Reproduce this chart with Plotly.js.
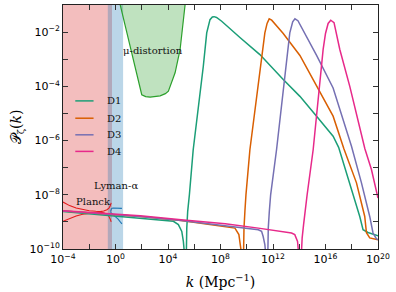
<!DOCTYPE html>
<html><head><meta charset="utf-8">
<script src="https://cdn.plot.ly/plotly-3.0.1.min.js"></script>
<style>html,body{margin:0;padding:0;background:#fff}#chart{width:396px;height:292px}</style>
</head><body><div id="chart"></div>
<script>
// ---- data (log10 of k in Mpc^-1, log10 of P_zeta) ----
const seriesNames = ['D1', 'D2', 'D3', 'D4'];
const seriesColors = ['#1b9e77', '#d95f02', '#7570b3', '#e7298a'];

const D1_logk = [-4, -2, 0, 1.89, 3.0, 4.0, 4.41, 4.79, 5.05, 5.17, 5.24, 5.3, 5.36, 5.43, 5.5, 5.63, 5.92, 6.39, 6.69, 6.95, 7.2, 7.38, 7.51, 7.7, 8.09, 9.48, 11.0, 12.78, 14.05, 15.32, 16.58, 17.0, 17.85, 18.61, 18.86, 19.24, 20];
const D1_logP = [-8.62, -8.7, -8.78, -8.86, -8.9, -8.94, -8.98, -9.1, -9.35, -9.72, -10.1, -13, -10.0, -9.23, -8.61, -8.0, -6.34, -4.49, -3.26, -2.03, -1.54, -1.44, -1.43, -1.46, -1.6, -2.2, -2.83, -3.75, -4.37, -5.1, -5.84, -6.25, -7.56, -8.8, -9.29, -9.39, -9.51];

const D2_logk = [-4, -2, 0, 1.89, 5, 8.36, 9.1, 9.4, 9.53, 9.58, 9.65, 9.72, 9.79, 9.86, 9.94, 10.24, 10.74, 11.06, 11.38, 11.55, 11.71, 11.9, 12.78, 14.05, 15.32, 16.58, 17.4, 18.36, 18.99, 19.12, 19.37, 20];
const D2_logP = [-8.6, -8.67, -8.74, -8.8, -8.95, -9.17, -9.23, -9.47, -9.84, -10.1, -13, -10.0, -9.23, -8.61, -8.0, -6.34, -4.49, -3.26, -2.03, -1.68, -1.51, -1.56, -2.05, -2.86, -4.0, -5.1, -6.3, -7.56, -8.8, -9.4, -9.59, -9.66];

const D3_logk = [-4, -2, 0, 1.89, 5, 8.36, 10.0, 10.88, 11.13, 11.25, 11.38, 11.43, 11.5, 11.57, 11.64, 11.72, 11.82, 12.27, 12.7, 13.03, 13.28, 13.5, 13.67, 13.9, 15.32, 16.58, 17.98, 18.74, 19.37, 19.62, 19.88, 20];
const D3_logP = [-8.6, -8.67, -8.74, -8.8, -8.95, -9.15, -9.25, -9.29, -9.35, -9.54, -9.84, -10.1, -13, -10.0, -9.23, -8.61, -8.0, -6.34, -4.49, -3.26, -2.03, -1.62, -1.51, -1.58, -2.86, -4.06, -6.21, -7.56, -8.8, -9.41, -9.63, -9.65];

const D4_logk = [-4, -2, 0, 1.89, 5, 8.36, 10.88, 13.41, 13.66, 13.87, 13.94, 14.05, 14.15, 14.22, 14.33, 14.45, 14.6, 15.06, 15.44, 15.82, 16.0, 16.2, 16.4, 16.65, 17.09, 17.85, 19.0, 19.5, 20];
const D4_logP = [-8.59, -8.66, -8.72, -8.77, -8.92, -9.07, -9.23, -9.41, -9.47, -9.72, -10.1, -13, -10.3, -9.6, -9.1, -8.6, -8.0, -6.34, -4.49, -2.64, -2.05, -1.68, -1.56, -1.65, -2.64, -4.0, -6.3, -7.07, -8.12];

// excluded regions (k in Mpc^-1)
const planckK = [1e-4, 0.54];
const lymanK = [0.26, 3.8];

// Planck band edges
const planck_logk = [-4, -3.5, -3, -2.5, -2, -1.5, -1.16, -0.9, -0.65, -0.5, -0.4, -0.33];
const planckUp_logP = [-8.27, -8.4, -8.49, -8.55, -8.59, -8.61, -8.62, -8.6, -8.55, -8.49, -8.41, -8.3];
const planckLo_logP = [-8.98, -8.88, -8.78, -8.72, -8.68, -8.66, -8.65, -8.66, -8.72, -8.8, -8.9, -9.0];

// Lyman-alpha band edges
const lymanUp_logk = [-0.38, -0.3, -0.2, 0.2, 0.49];
const lymanUp_logP = [-8.62, -8.51, -8.49, -8.49, -8.5];
const lymanLo_logk = [-0.38, -0.2, 0.0, 0.2, 0.35, 0.49];
const lymanLo_logP = [-8.65, -8.72, -8.8, -8.9, -8.99, -9.07];

// mu-distortion bound
const mu_logk = [0.3, 0.36, 0.87, 1.37, 1.75, 2.0, 2.3, 2.64, 3.4, 3.8, 4.03, 4.54, 4.92, 5.17, 5.3, 5.35];
const mu_logP = [0, -1.0, -2.03, -3.01, -3.87, -4.31, -4.38, -4.4, -4.35, -4.27, -4.18, -3.5, -2.65, -1.54, -1.0, 0];

// axes ticks (exponents)
const xTickExp = [-4, -2, 0, 2, 4, 6, 8, 10, 12, 14, 16, 18, 20];
const xLabelExp = [-4, 0, 4, 8, 12, 16, 20];
const yTickExp = [-10, -9, -8, -7, -6, -5, -4, -3, -2, -1];
const yLabelExp = [-10, -8, -6, -4, -2];

// text labels
const regionLabels = [
  {text: 'μ-distortion', logk: 2.83, logP: -2.68},
  {text: 'Lyman-α', logk: 0.0, logP: -7.66},
  {text: 'Planck', logk: -1.67, logP: -8.24}
];

// ---- build ----
const p10 = a => a.map(v => Math.pow(10, v));
const sup = e => '10<sup>' + (e < 0 ? '\u2212' + (-e) : e) + '</sup>';
const traces = [];
// regions
traces.push({x: [planckK[0], planckK[1], planckK[1], planckK[0]], y: [1e-12, 1e-12, 1, 1], fill: 'toself', fillcolor: 'rgba(214,39,40,0.3)', mode: 'none', hoverinfo: 'skip'});
traces.push({x: [lymanK[0], lymanK[1], lymanK[1], lymanK[0]], y: [1e-12, 1e-12, 1, 1], fill: 'toself', fillcolor: 'rgba(31,119,180,0.3)', mode: 'none', hoverinfo: 'skip'});
traces.push({x: p10(mu_logk), y: p10(mu_logP), fill: 'toself', fillcolor: 'rgba(44,160,44,0.3)', mode: 'lines', line: {color: '#2ca02c', width: 1.2}, hoverinfo: 'skip'});
// bands
traces.push({x: p10(planck_logk), y: p10(planckUp_logP), mode: 'lines', line: {color: '#e31a1c', width: 1.1}});
traces.push({x: p10(planck_logk), y: p10(planckLo_logP), mode: 'lines', line: {color: '#e31a1c', width: 1.1}});
traces.push({x: p10(lymanUp_logk), y: p10(lymanUp_logP), mode: 'lines', line: {color: '#1f77b4', width: 1.1}});
traces.push({x: p10(lymanLo_logk), y: p10(lymanLo_logP), mode: 'lines', line: {color: '#1f77b4', width: 1.1}});
// series
const allK = [D1_logk, D2_logk, D3_logk, D4_logk];
const allP = [D1_logP, D2_logP, D3_logP, D4_logP];
for (let i = 0; i < 4; i++) {
  traces.push({x: p10(allK[i]), y: p10(allP[i]), mode: 'lines', name: seriesNames[i], line: {color: seriesColors[i], width: 1.5}});
}

const axisCommon = {
  type: 'log', tickmode: 'array', ticks: 'inside', ticklen: 5, tickwidth: 1, tickcolor: '#333',
  mirror: 'allticks', showline: true, linecolor: '#222', linewidth: 1, showgrid: false, zeroline: false,
  automargin: false, tickfont: {family: 'DejaVu Sans', size: 11, color: '#000'}
};

const annotations = regionLabels.map(l => ({x: l.logk, y: l.logP, xref: 'x', yref: 'y', text: l.text, showarrow: false,
  xanchor: 'center', yanchor: 'middle', font: {family: 'DejaVu Serif', size: 10, color: '#111'}}));
const shapes = [];
const legX0 = 0.039, legX1 = 0.097, legTX = 0.134;
const legY = [0.607, 0.536, 0.468, 0.400];
for (let i = 0; i < 4; i++) {
  shapes.push({type: 'line', xref: 'paper', yref: 'paper', x0: legX0, x1: legX1, y0: legY[i], y1: legY[i], line: {color: seriesColors[i], width: 1.5}});
  annotations.push({xref: 'paper', yref: 'paper', x: legTX, y: legY[i], text: seriesNames[i], showarrow: false, xanchor: 'left', yanchor: 'middle', font: {family: 'DejaVu Serif', size: 10, color: '#111'}});
}

const layout = {
  width: 396, height: 292, margin: {l: 63, r: 18, t: 5, b: 43},
  paper_bgcolor: '#fff', plot_bgcolor: '#fff', showlegend: false,
  xaxis: Object.assign({}, axisCommon, {range: [-4, 20], tickvals: p10(xTickExp),
    ticktext: xTickExp.map(e => xLabelExp.includes(e) ? sup(e) : ''),
    title: {text: '<i>k</i> (Mpc<sup>\u22121</sup>)', font: {family: 'DejaVu Serif', size: 14, color: '#000'}, standoff: 11}}),
  yaxis: Object.assign({}, axisCommon, {range: [-10, -1], tickvals: p10(yTickExp),
    ticktext: yTickExp.map(e => yLabelExp.includes(e) ? sup(e) : ''),
    title: {text: '\ud835\udcab<sub>\u03b6</sub>(<i>k</i>)', font: {family: 'DejaVu Serif', size: 14, color: '#000'}, standoff: 4}}),
  annotations: annotations, shapes: shapes
};
Plotly.newPlot('chart', traces, layout, {staticPlot: true, displayModeBar: false});
</script></body></html>
